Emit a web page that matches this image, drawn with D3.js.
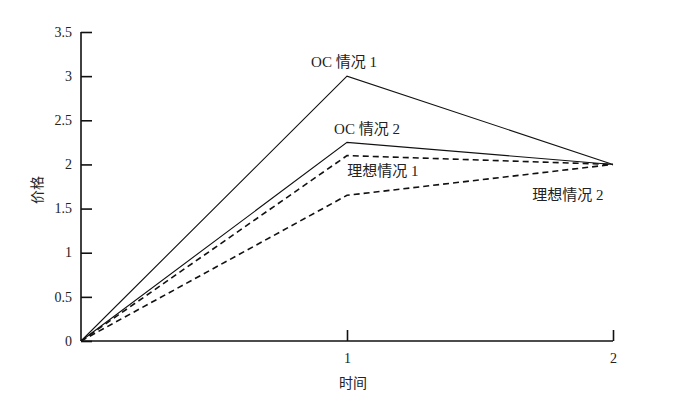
<!DOCTYPE html>
<html><head><meta charset="utf-8">
<script src="https://cdn.jsdelivr.net/npm/d3@7"></script>
<style>body{margin:0;background:#fff}text{font-family:"Liberation Serif","Noto Sans CJK SC",serif;fill:#222}</style>
</head><body><svg id="c" width="684" height="401"></svg>
<script>
const times = [0, 1, 2];
const oc1 = [0, 3.0, 2.0];
const oc2 = [0, 2.25, 2.0];
const ideal1 = [0, 2.1, 2.0];
const ideal2 = [0, 1.65, 2.0];
const yTicks = [0, 0.5, 1, 1.5, 2, 2.5, 3, 3.5];
const xTicks = [1, 2];
const seriesNames = ["OC 情况 1", "OC 情况 2", "理想情况 1", "理想情况 2"];

const svg = d3.select("#c");
const x = d3.scaleLinear().domain([0, 2]).range([81, 613]);
const y = d3.scaleLinear().domain([0, 3.5]).range([341, 32]);

const yAxis = svg.append("g").attr("transform", "translate(81,0)")
  .call(d3.axisRight(y).tickValues(yTicks).tickSize(11).tickFormat(d => String(d)));
yAxis.select(".domain").attr("d", "M0,32V341").attr("stroke", "#111").attr("stroke-width", 1.6);
yAxis.selectAll(".tick line").attr("stroke", "#111").attr("stroke-width", 1.6);
yAxis.selectAll(".tick text").attr("x", -9).attr("text-anchor", "end").attr("font-size", 14).attr("dy", "0.3em");

const xAxis = svg.append("g").attr("transform", "translate(0,341)")
  .call(d3.axisTop(x).tickValues(xTicks).tickSize(11).tickFormat(d => String(d)));
xAxis.select(".domain").attr("d", "M81,0H613").attr("stroke", "#111").attr("stroke-width", 1.6);
xAxis.selectAll(".tick line").attr("stroke", "#111").attr("stroke-width", 1.6);
xAxis.selectAll(".tick text").attr("y", 22).attr("dy", 0).attr("font-size", 14);
svg.selectAll(".tick text").attr("fill", "#222").style("font-family", "Liberation Serif");

const line = d3.line().x((d, i) => x(times[i])).y(d => y(d));
const series = [
  {v: oc1, dash: null, w: 1.1},
  {v: oc2, dash: null, w: 1.1},
  {v: ideal1, dash: "6,4", w: 1.6},
  {v: ideal2, dash: "6,4", w: 1.6}
];
series.forEach(s => {
  svg.append("path").attr("d", line(s.v)).attr("fill", "none")
    .attr("stroke", "#111").attr("stroke-width", s.w)
    .attr("stroke-dasharray", s.dash);
});

const labels = [
  {t: seriesNames[0], x: x(1) - 3, y: y(3.0) - 9},
  {t: seriesNames[1], x: x(1) + 20, y: y(2.25) - 8},
  {t: seriesNames[2], x: x(1) + 36, y: y(1.87)},
  {t: seriesNames[3], x: x(1.83), y: y(1.6)}
];
labels.forEach(l => {
  svg.append("text").attr("x", l.x).attr("y", l.y).attr("text-anchor", "middle")
    .attr("font-size", 15).text(l.t);
});

svg.append("text").attr("transform", "translate(42,190) rotate(-90)")
  .attr("text-anchor", "middle").attr("font-size", 14).text("价格");
svg.append("text").attr("x", 353).attr("y", 388)
  .attr("text-anchor", "middle").attr("font-size", 14).text("时间");
</script></body></html>
